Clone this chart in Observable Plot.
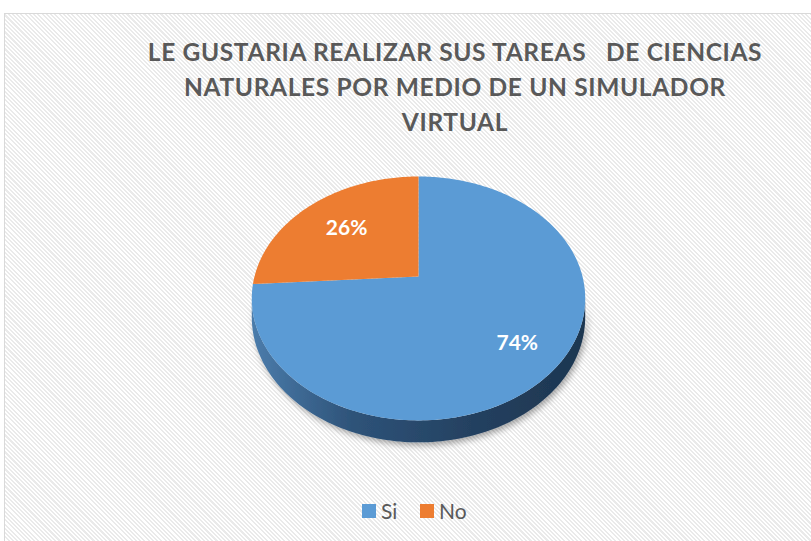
<!DOCTYPE html>
<html><head><meta charset="utf-8">
<script src="https://cdn.jsdelivr.net/npm/d3@7"></script>
<script src="https://cdn.jsdelivr.net/npm/@observablehq/plot@0.6"></script>
<style>
html,body{margin:0;padding:0;background:#fff;}
body{width:811px;height:541px;overflow:hidden;position:relative;font-family:Lato,"Open Sans",sans-serif;}
#frame{position:absolute;left:4px;top:13px;width:840px;height:560px;border:1px solid #d9d9d9;
  background:repeating-linear-gradient(45deg,#ffffff 0 1.5px,#eaeaea 1.5px 3px);}
#title{position:absolute;left:0;top:34px;width:910px;text-align:center;color:#595959;font-weight:700;
  font-size:24.5px;letter-spacing:0.65px;line-height:35px;white-space:pre;}
#chart{position:absolute;left:0;top:150px;}
#legend{position:absolute;left:0;top:498px;width:811px;font-size:21px;color:#595959;}
.item{position:absolute;top:0;display:flex;align-items:center;height:24px;}
.sw{width:14px;height:14px;margin-right:5px;margin-top:2px;}
</style>
</head><body>
<div id="frame"></div>
<div id="title"></div>
<div id="chart"></div>
<div id="legend"></div>
<script>
// ---- data ----
const titleLines = ["LE GUSTARIA REALIZAR SUS TAREAS   DE CIENCIAS", "NATURALES POR MEDIO DE UN SIMULADOR", "VIRTUAL"];
const categories = ["Si", "No"];
const values = [74, 26];
const labels = ["74%", "26%"];
const colors = ["#5B9BD5", "#ED7D31"];

// ---- layout / projection (styling) ----
const W = 811, H = 320, TOP = 150;
const cx = 418, cy = 276, R = 164, Ry = 118, persp = 0.18, depth = 18;
const labelR = {Si: 0.75, No: 0.65};
function proj(theta, k = 1, drop = 0) {
  const sx = Math.sin(theta) * k, sz = Math.cos(theta) * k;
  const f = 1 / (1 + persp * sz);
  return {x: cx + R * sx * f, y: cy - Ry * sz * f + drop * f};
}

document.getElementById("title").textContent = titleLines.join("\n");

const arcs = d3.pie().sort(null).startAngle(0).endAngle(2 * Math.PI)(values);
const slices = arcs.map((a, i) => {
  const pts = [{x: cx, y: cy}];
  const n = Math.max(8, Math.ceil((a.endAngle - a.startAngle) * 60));
  for (let j = 0; j <= n; j++) pts.push(proj(a.startAngle + (a.endAngle - a.startAngle) * j / n));
  return {cat: categories[i], color: colors[i], pts, label: labels[i],
    lp: proj((a.startAngle + a.endAngle) / 2, labelR[categories[i]])};
});

// side wall (front, visible half)
const t1 = Math.acos(-persp), t2 = 2 * Math.PI - Math.acos(-persp);
const side = [];
for (let j = 0; j <= 120; j++) side.push(proj(t1 + (t2 - t1) * j / 120));
for (let j = 120; j >= 0; j--) side.push(proj(t1 + (t2 - t1) * j / 120, 1, depth));

const plot = Plot.plot({
  width: W, height: H, margin: 0,
  style: {background: "transparent", overflow: "visible"},
  x: {type: "linear", domain: [0, W], range: [0, W], axis: null},
  y: {type: "linear", domain: [TOP, TOP + H], range: [0, H], axis: null},
  marks: [
    Plot.line(side, {x: "x", y: "y", fill: "url(#sideGrad)", stroke: "none", curve: "linear"}),
    ...slices.map(s => Plot.line(s.pts, {x: "x", y: "y", fill: s.color, stroke: "none", curve: "linear"})),
    Plot.text(slices, {x: d => d.lp.x, y: d => d.lp.y, text: "label", fill: "white",
      fontSize: 21, fontWeight: "bold", fontFamily: "Lato, 'Open Sans', sans-serif"})
  ]
});
d3.select(plot).insert("defs", ":first-child").html(
  `<linearGradient id="sideGrad" x1="0" x2="1" y1="0" y2="0">
     <stop offset="0" stop-color="#4b7cab"/>
     <stop offset="0.3" stop-color="#2e5379"/>
     <stop offset="0.7" stop-color="#233f5e"/>
     <stop offset="1" stop-color="#1d3650"/>
   </linearGradient>
   <filter id="shadow" x="-20%" y="-20%" width="140%" height="160%">
     <feDropShadow dx="2" dy="3" stdDeviation="3" flood-color="#000" flood-opacity="0.35"/>
   </filter>`);
d3.select(plot).select('g[aria-label="line"]').attr("filter", "url(#shadow)");
document.getElementById("chart").appendChild(plot);

// legend
const legendX = [362, 420];
const leg = document.getElementById("legend");
categories.forEach((c, i) => {
  const it = document.createElement("div");
  it.className = "item";
  it.style.left = legendX[i] + "px";
  it.innerHTML = `<span class="sw" style="background:${colors[i]}"></span><span>${c}</span>`;
  leg.appendChild(it);
});
</script>
</body></html>
